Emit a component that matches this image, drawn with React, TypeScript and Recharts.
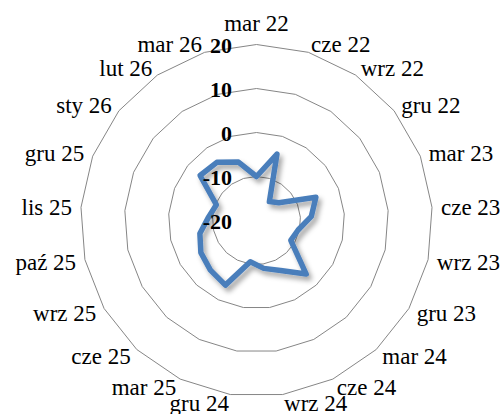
import { PolarAngleAxis, PolarGrid, PolarRadiusAxis, Radar, RadarChart } from "recharts";

const W = 503;
const H = 414;
const CX = 256.5;
const CY = 220.5;
const R = 176;

const periods = [
  "mar 22", "cze 22", "wrz 22", "gru 22", "mar 23", "cze 23", "wrz 23", "gru 23",
  "mar 24", "cze 24", "wrz 24", "gru 24", "mar 25", "cze 25", "wrz 25", "paź 25",
  "lis 25", "gru 25", "sty 26", "lut 26", "mar 26",
];

const values = [
  -10, -4.2, -14.8, -13.5, -5.5, -7.5, -10.3, -11, -3.4, -7.4, -9, -10.5,
  -3.7, -4.6, -5.4, -6.8, -9.1, -10.2, -3.6, -4, -6.1,
];

const radiusTicks = [-20, -10, 0, 10, 20];

const data = periods.map((p, i) => ({ period: p, value: values[i] }));

const FONT = "Liberation Serif, Times New Roman, serif";

// category labels, placed outside each outer vertex (Excel-ish placement)
function AngleTick(props: any) {
  const { payload } = props;
  const a = (payload.coordinate * Math.PI) / 180;
  const dx = Math.cos(a);
  const up = Math.sin(a);
  const vx = CX + R * dx;
  const vy = CY - R * up;
  let anchor = "middle";
  if (dx > 0.1) anchor = "start";
  else if (dx < -0.1) anchor = "end";
  const x = vx + 9 * dx;
  const y = anchor === "middle" && up > 0 ? vy - 13.5 : vy - 9 * up + 8;
  return (
    <text x={x} y={y} textAnchor={anchor} fontFamily={FONT} fontSize={23} fill="#000">
      {payload.value}
    </text>
  );
}

const labelWidth = (label: string) =>
  label.replace("-", "").length * 11 + (label.startsWith("-") ? 7.5 : 0);

// white patch behind the value labels, drawn under the series
function RadiusTickBg(props: any) {
  const { x, y, payload } = props;
  const w = labelWidth(String(payload.value));
  const tx = x - 24.5;
  return <rect x={tx - w - 1} y={y - 7} width={w + 2} height={15} fill="#fff" />;
}

function RadiusTick(props: any) {
  const { x, y, payload } = props;
  return (
    <text
      x={x - 24.5}
      y={y + 8.5}
      textAnchor="end"
      fontFamily={FONT}
      fontSize={22}
      fontWeight="bold"
      fill="#000"
    >
      {String(payload.value)}
    </text>
  );
}

export default function App() {
  return (
    <div style={{ position: "absolute", left: 0, top: 0, width: W, height: H, background: "#fff", fontFamily: FONT }}>
      <RadarChart
        width={W}
        height={H}
        data={data}
        cx={CX}
        cy={CY}
        outerRadius={R}
        margin={{ top: 0, right: 0, bottom: 0, left: 0 }}
      >
        <defs>
          <filter id="dshadow" x="-20%" y="-20%" width="140%" height="140%">
            <feDropShadow dx="3" dy="4" stdDeviation="2.5" floodColor="#000" floodOpacity="0.35" />
          </filter>
        </defs>
        <PolarGrid gridType="polygon" radialLines={false} stroke="#868686" strokeWidth={1} />
        <PolarAngleAxis dataKey="period" axisLine={false} tickLine={false} tick={<AngleTick />} />
        <PolarRadiusAxis
          radiusAxisId="bg"
          angle={90}
          domain={[-20, 20]}
          ticks={radiusTicks as any}
          tickCount={5}
          axisLine={false}
          tickLine={false}
          tick={<RadiusTickBg />}
        />
        <Radar
          dataKey="value"
          stroke="#4a7ebb"
          strokeWidth={5.5}
          strokeLinejoin="round"
          fill="none"
          fillOpacity={0}
          filter="url(#dshadow)"
          dot={false}
          isAnimationActive={false}
        />
        <PolarRadiusAxis
          angle={90}
          domain={[-20, 20]}
          ticks={radiusTicks as any}
          tickCount={5}
          axisLine={false}
          tickLine={false}
          tick={<RadiusTick />}
        />
      </RadarChart>
    </div>
  );
}
